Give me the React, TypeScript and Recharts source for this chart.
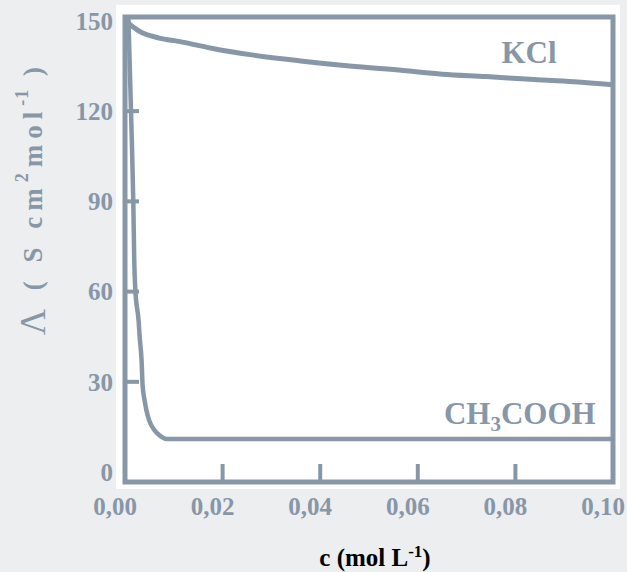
import React from 'react';
import { LineChart, Line, XAxis, YAxis, ReferenceArea, ReferenceDot } from 'recharts';

// ---- data ----
const xTicks = [0, 0.02, 0.04, 0.06, 0.08, 0.1];
const yTicks = [0, 30, 60, 90, 120, 150];
const xDomain = [0, 0.1];
const yDomain = [-3.3, 151.3];

const kclC = [0, 0.001, 0.003, 0.007, 0.011, 0.019, 0.026, 0.036, 0.046, 0.057, 0.065, 0.074, 0.083, 0.092, 0.1];
const kclL = [150, 148.8, 146.5, 144.3, 143.2, 140.5, 138.7, 136.7, 135, 133.5, 132.3, 131.5, 130.6, 129.8, 128.8];

const acC = [0.0007, 0.0013, 0.0017, 0.0019, 0.0021, 0.0028, 0.003, 0.0034, 0.0036, 0.004, 0.0044, 0.005, 0.006, 0.007, 0.0085, 0.1];
const acL = [151, 116, 90, 70, 61, 50, 45, 37, 29, 24, 20.5, 17, 14, 12.3, 11, 11];

const kclLabel = { c: 0.0828, v: 139.7, text: 'KCl' };
const acLabel = { c: 0.0809, v: 19.6, text: ['CH', '3', 'COOH'] };

const kclData = kclC.map((c, i) => ({ c, v: kclL[i] }));
const acData = acC.map((c, i) => ({ c, v: acL[i] }));

// ---- style ----
const COL = '#8797a8';
const SERIF = '"Liberation Serif", "Times New Roman", serif';

const fmtX = (v: number) => v.toFixed(2).replace('.', ',');

const YTick = (props: any) => {
  const { x, y, payload } = props;
  const v = payload.value;
  const axisX = x + 12;
  return (
    <g>
      {v > 0 && v < 150 && (
        <line x1={axisX} x2={axisX + 14} y1={y} y2={y} stroke={COL} strokeWidth={4} />
      )}
      <text x={x} y={y} dy="0.35em" textAnchor="end" fill={COL} fontFamily={SERIF} fontWeight="bold" fontSize={25}>
        {v}
      </text>
    </g>
  );
};

const XTick = (props: any) => {
  const { x, y, payload } = props;
  const v = payload.value;
  const axisY = y - 16;
  return (
    <g>
      {v > 0.001 && v < 0.099 && (
        <line x1={x} x2={x} y1={axisY} y2={axisY - 18} stroke={COL} strokeWidth={4} />
      )}
      <text x={x - 10} y={y} dy="0.68em" textAnchor="middle" fill={COL} fontFamily={SERIF} fontWeight="bold" fontSize={25}>
        {fmtX(v)}
      </text>
    </g>
  );
};

const YTitle = (props: any) => {
  const vb = props.viewBox;
  const cx = vb.x + 33;
  const cy = vb.y + 181;
  return (
    <text
      x={cx}
      y={cy}
      transform={`rotate(-90 ${cx} ${cy})`}
      textAnchor="middle"
      dominantBaseline="central"
      fill={COL}
      fontFamily={SERIF}
      fontWeight="bold"
      fontSize={27}
      letterSpacing={6}
    >
      <tspan fontWeight="normal" fontSize={36}>Λ</tspan>
      <tspan> ( S cm</tspan>
      <tspan dy={-11} fontSize={18}>2</tspan>
      <tspan dy={11}>mol</tspan>
      <tspan dy={-11} fontSize={18} letterSpacing={1}>-1</tspan>
      <tspan dy={11}> )</tspan>
    </text>
  );
};

const XTitle = (props: any) => {
  const vb = props.viewBox;
  const cx = vb.x + 250;
  const cy = vb.y + 84;
  return (
    <text x={cx} y={cy} textAnchor="middle" fill="#000" fontFamily={SERIF} fontWeight="bold" fontSize={25}>
      <tspan>c (mol L</tspan>
      <tspan dy={-9} fontSize={17}>-1</tspan>
      <tspan dy={9}>)</tspan>
    </text>
  );
};

const KclText = (props: any) => {
  const vb = props.viewBox;
  return (
    <text x={vb.x} y={vb.y} dy="0.35em" textAnchor="middle" fill={COL} fontFamily={SERIF} fontWeight="bold" fontSize={31}>
      {kclLabel.text}
    </text>
  );
};

const AcText = (props: any) => {
  const vb = props.viewBox;
  return (
    <text x={vb.x} y={vb.y} dy="0.35em" textAnchor="middle" fill={COL} fontFamily={SERIF} fontWeight="bold" fontSize={31}>
      <tspan>{acLabel.text[0]}</tspan>
      <tspan dy={7} fontSize={21}>{acLabel.text[1]}</tspan>
      <tspan dy={-7}>{acLabel.text[2]}</tspan>
    </text>
  );
};

export default function App() {
  return (
    <div style={{ position: 'absolute', left: 0, top: 0, width: 627, height: 572, background: '#eceeef', overflow: 'hidden' }}>
      <div style={{ position: 'absolute', left: 116, top: 5, width: 504, height: 484, background: '#ffffff' }} />
      <div style={{ position: 'absolute', left: 0, top: 0 }}>
        <LineChart width={627} height={572} data={kclData} margin={{ top: 17, right: 14, left: 0, bottom: 50 }}>
          <XAxis
            dataKey="c"
            type="number"
            domain={xDomain}
            ticks={xTicks}
            allowDataOverflow
            height={40}
            tickSize={0}
            tickMargin={16}
            axisLine={false}
            tickLine={false}
            tick={<XTick />}
            interval={0}
            label={<XTitle />}
          />
          <YAxis
            dataKey="v"
            type="number"
            domain={yDomain}
            ticks={yTicks}
            allowDataOverflow
            width={125}
            tickSize={0}
            tickMargin={12}
            axisLine={false}
            tickLine={false}
            tick={<YTick />}
            interval={0}
            label={<YTitle />}
          />
          <Line data={kclData} dataKey="v" type="monotone" stroke={COL} strokeWidth={5} dot={false} isAnimationActive={false} />
          <Line data={acData} dataKey="v" type="monotone" stroke={COL} strokeWidth={4.5} dot={false} isAnimationActive={false} />
          <ReferenceArea
            x1={xDomain[0]}
            x2={xDomain[1]}
            y1={yDomain[0]}
            y2={yDomain[1]}
            fill="none"
            fillOpacity={0}
            stroke={COL}
            strokeWidth={5}
            ifOverflow="visible"
          />
          <ReferenceDot x={kclLabel.c} y={kclLabel.v} r={0} fill="none" stroke="none" ifOverflow="visible" label={<KclText />} />
          <ReferenceDot x={acLabel.c} y={acLabel.v} r={0} fill="none" stroke="none" ifOverflow="visible" label={<AcText />} />
        </LineChart>
      </div>
    </div>
  );
}
